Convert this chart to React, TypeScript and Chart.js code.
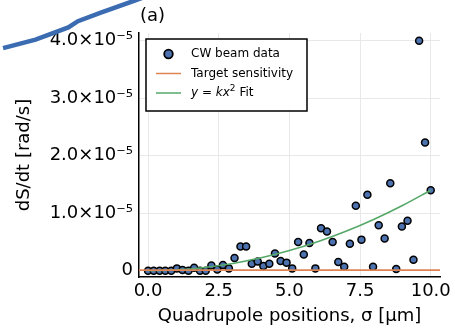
import React, { useEffect, useRef } from "react";
import { Chart, registerables } from "chart.js";

Chart.register(...registerables);

// Scatter data: quadrupole positions (μm) and measured dS/dt (rad/s)
const positions = [
  0.0, 0.2, 0.41, 0.61, 0.82, 1.02, 1.22, 1.43, 1.63, 1.84,
  2.04, 2.24, 2.45, 2.65, 2.86, 3.06, 3.27, 3.47, 3.67, 3.88,
  4.08, 4.29, 4.49, 4.69, 4.9, 5.1, 5.31, 5.51, 5.71, 5.92,
  6.12, 6.33, 6.53, 6.73, 6.94, 7.14, 7.35, 7.55, 7.76, 7.96,
  8.16, 8.37, 8.57, 8.78, 8.98, 9.18, 9.39, 9.59, 9.8, 10.0,
];
const rates = [
  0.0e-5, 0.0e-5, 0.0e-5, 0.0e-5, 0.0e-5, 0.04e-5, 0.01e-5, 0.0e-5, 0.05e-5, 0.0e-5,
  0.0e-5, 0.09e-5, 0.02e-5, 0.1e-5, 0.04e-5, 0.22e-5, 0.42e-5, 0.42e-5, 0.12e-5, 0.16e-5,
  0.08e-5, 0.12e-5, 0.3e-5, 0.17e-5, 0.14e-5, 0.04e-5, 0.5e-5, 0.28e-5, 0.48e-5, 0.04e-5,
  0.74e-5, 0.68e-5, 0.5e-5, 0.15e-5, 0.07e-5, 0.47e-5, 1.13e-5, 0.54e-5, 1.32e-5, 0.07e-5,
  0.79e-5, 0.56e-5, 1.52e-5, 0.03e-5, 0.77e-5, 0.87e-5, 0.19e-5, 4.0e-5, 2.23e-5, 1.4e-5,
];

// Target sensitivity (horizontal line)
const targetX = [-0.32, 10.33];
const targetY = [0.01e-5, 0.01e-5];

// y = k x^2 fit curve
const fitX = [0, 1, 2, 3, 4, 5, 6, 7, 8, 9, 10];
const fitY = [0, 0.014e-5, 0.056e-5, 0.126e-5, 0.224e-5, 0.35e-5, 0.504e-5, 0.686e-5, 0.896e-5, 1.134e-5, 1.4e-5];

// Fragment of the neighbouring panel's curve visible at the top-left corner
const neighborX = [0.1, -0.52, -1.67, -2.48, -2.82, -3.98, -5.13];
const neighborY = [4.8e-5, 4.69e-5, 4.49e-5, 4.34e-5, 4.23e-5, 4.02e-5, 3.87e-5];

const xTicks = [0, 2.5, 5, 7.5, 10];
const xTickLabels = ["0.0", "2.5", "5.0", "7.5", "10.0"];
const yTicks = [0, 1e-5, 2e-5, 3e-5, 4e-5];
const yTickLabels = ["0", "1.0×10⁻⁵", "2.0×10⁻⁵", "3.0×10⁻⁵", "4.0×10⁻⁵"];

const legendLabels = ["CW beam data", "Target sensitivity"];
const panelLabel = "(a)";
const xTitle = "Quadrupole positions, σ [μm]";
const yTitle = "dS/dt [rad/s]";

const BLUE = "#4C72B0";
const ORANGE = "#DD8452";
const GREEN = "#55A868";
const FONT = "DejaVu Sans";

const overlayPlugin = {
  id: "overlay",
  afterDatasetsDraw(chart: any) {
    const { ctx, chartArea } = chart;
    ctx.save();
    // panel label
    ctx.fillStyle = "#000";
    ctx.font = `18px "${FONT}"`;
    ctx.textAlign = "left";
    ctx.textBaseline = "middle";
    ctx.fillText(panelLabel, chartArea.left + 1, 16);

    // legend box
    const x0 = chartArea.left + 7;
    const y0 = chartArea.top + 6;
    const w = 161;
    const h = 72;
    ctx.fillStyle = "rgba(255,255,255,0.95)";
    ctx.fillRect(x0, y0, w, h);
    ctx.strokeStyle = "#000";
    ctx.lineWidth = 1.5;
    ctx.strokeRect(x0, y0, w, h);

    const rows = [y0 + 15, y0 + 34.5, y0 + 54];
    const hx0 = x0 + 10;
    const hx1 = x0 + 35;
    const tx = x0 + 45;

    // marker
    ctx.beginPath();
    ctx.arc((hx0 + hx1) / 2, rows[0], 4.3, 0, Math.PI * 2);
    ctx.fillStyle = BLUE;
    ctx.fill();
    ctx.lineWidth = 1.8;
    ctx.strokeStyle = "#000";
    ctx.stroke();

    // lines
    ctx.lineWidth = 1.5;
    ctx.strokeStyle = ORANGE;
    ctx.beginPath();
    ctx.moveTo(hx0, rows[1]);
    ctx.lineTo(hx1, rows[1]);
    ctx.stroke();
    ctx.strokeStyle = GREEN;
    ctx.beginPath();
    ctx.moveTo(hx0, rows[2]);
    ctx.lineTo(hx1, rows[2]);
    ctx.stroke();

    ctx.fillStyle = "#000";
    ctx.textBaseline = "middle";
    ctx.font = `12px "${FONT}"`;
    ctx.fillText(legendLabels[0], tx, rows[0]);
    ctx.fillText(legendLabels[1], tx, rows[1]);

    // "y = kx² Fit" with math italic
    let cx = tx;
    const seg = (t: string, font: string, dy = 0) => {
      ctx.font = font;
      ctx.fillText(t, cx, rows[2] + dy);
      cx += ctx.measureText(t).width;
    };
    const it = `italic 12px "${FONT}"`;
    const nm = `12px "${FONT}"`;
    seg("y", it);
    seg(" = ", nm);
    seg("kx", it);
    seg("2", `9px "${FONT}"`, -4);
    seg(" Fit", nm);
    ctx.restore();
  },
};

export default function App() {
  const canvasRef = useRef<HTMLCanvasElement | null>(null);

  useEffect(() => {
    document.body.style.margin = "0";
    const canvas = canvasRef.current;
    if (!canvas) return;
    const chart = new Chart(canvas, {
      type: "scatter",
      data: {
        datasets: [
          {
            label: legendLabels[0],
            data: positions.map((x, i) => ({ x, y: rates[i] })),
            backgroundColor: BLUE,
            borderColor: "#000",
            borderWidth: 1.5,
            pointRadius: 3.5,
            pointHoverRadius: 3.5,
            order: 3,
          },
          {
            label: legendLabels[1],
            type: "line",
            data: targetX.map((x, i) => ({ x, y: targetY[i] })),
            borderColor: ORANGE,
            borderWidth: 1.6,
            pointRadius: 0,
            showLine: true,
            order: 1,
          },
          {
            label: "fit",
            type: "line",
            data: fitX.map((x, i) => ({ x, y: fitY[i] })),
            borderColor: GREEN,
            borderWidth: 1.6,
            pointRadius: 0,
            showLine: true,
            cubicInterpolationMode: "monotone",
            order: 2,
          },
          {
            label: "neighbor",
            type: "line",
            data: neighborX.map((x, i) => ({ x, y: neighborY[i] })),
            borderColor: "#3B6BB0",
            borderWidth: 4.5,
            pointRadius: 0,
            showLine: true,
            clip: false,
            order: 0,
          } as any,
        ],
      },
      options: {
        animation: false,
        responsive: false,
        events: [],
        layout: { padding: { left: 0, top: 33, right: 8, bottom: 0 } },
        plugins: {
          legend: { display: false },
          tooltip: { enabled: false },
        },
        scales: {
          x: {
            type: "linear",
            min: -0.32,
            max: 10.33,
            afterBuildTicks: (s: any) => {
              s.ticks = xTicks.map((v) => ({ value: v }));
            },
            afterFit: (s: any) => {
              s.height = 54;
            },
            ticks: {
              callback: (v: any) => xTickLabels[xTicks.indexOf(Number(v))] ?? "",
              font: { family: FONT, size: 18 },
              color: "#000",
              padding: 4,
              maxRotation: 0,
              autoSkip: false,
            },
            grid: { color: "#e8e8e8", lineWidth: 1, drawTicks: false },
            border: { display: true, color: "#000", width: 1.5 },
            title: {
              display: true,
              text: xTitle,
              font: { family: FONT, size: 18 },
              color: "#000",
              padding: { top: 0, bottom: 4 },
            },
          },
          y: {
            type: "linear",
            min: -0.11e-5,
            max: 4.134e-5,
            afterBuildTicks: (s: any) => {
              s.ticks = yTicks.map((v) => ({ value: v }));
            },
            afterFit: (s: any) => {
              s.width = 139;
            },
            ticks: {
              callback: (v: any) => {
                const i = yTicks.findIndex((t) => Math.abs(t - Number(v)) < 1e-9);
                return i >= 0 ? yTickLabels[i] : "";
              },
              font: { family: FONT, size: 18 },
              color: "#000",
              padding: 6,
              autoSkip: false,
            },
            grid: { color: "#e8e8e8", lineWidth: 1, drawTicks: false },
            border: { display: true, color: "#000", width: 1.5 },
            title: {
              display: true,
              text: yTitle,
              font: { family: FONT, size: 18 },
              color: "#000",
              padding: { top: 14, bottom: 0 },
            },
          },
        },
      },
      plugins: [overlayPlugin],
    } as any);
    return () => chart.destroy();
  }, []);

  return (
    <div style={{ position: "fixed", left: 0, top: 0, width: 455, height: 331, background: "#fff" }}>
      <canvas ref={canvasRef} width={455} height={331} />
    </div>
  );
}
